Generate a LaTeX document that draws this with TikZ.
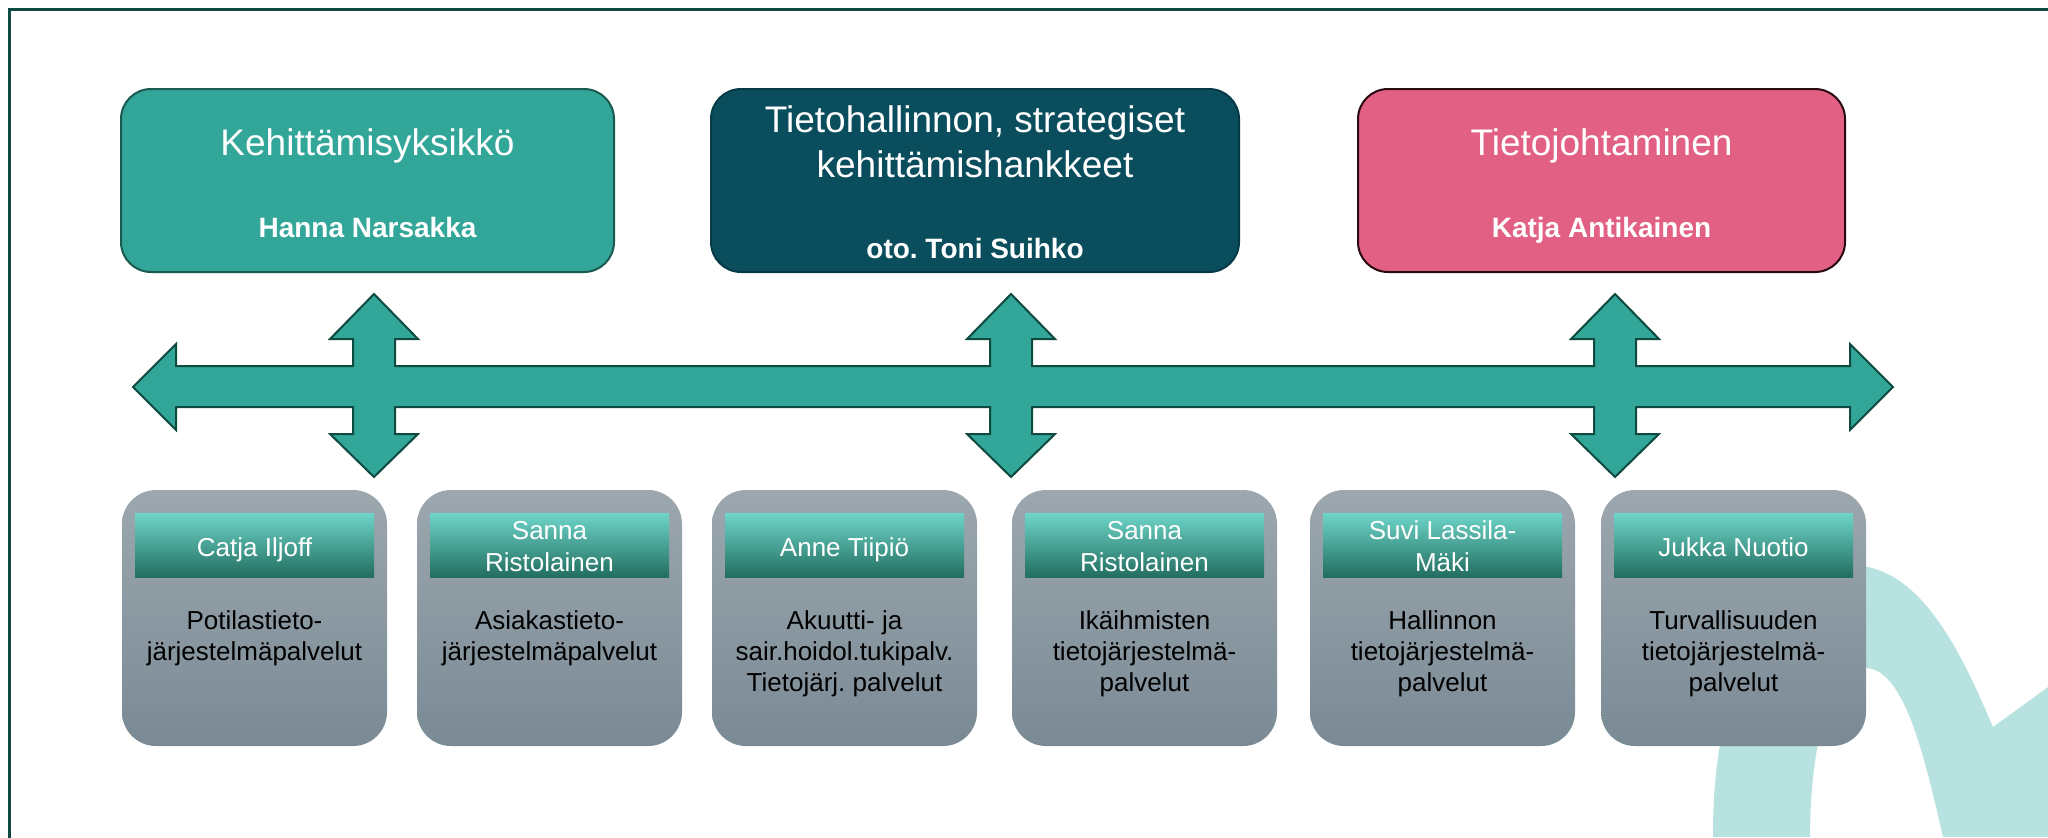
\documentclass[tikz,border=0pt]{standalone}
\usepackage{fontspec}
\setmainfont{Liberation Sans}
\frenchspacing
\definecolor{tealfill}{HTML}{32A698}
\definecolor{tealline}{HTML}{1A5A50}
\definecolor{navyfill}{HTML}{0A4E5E}
\definecolor{navyline}{HTML}{063A46}
\definecolor{pinkfill}{HTML}{E16083}
\definecolor{pinkline}{HTML}{2A0A12}
\definecolor{arrowline}{HTML}{0E4A40}
\definecolor{framecol}{HTML}{0E4A42}
\definecolor{graytop}{HTML}{9CA7AE}
\definecolor{graybot}{HTML}{7A8A95}
\definecolor{hdtop}{HTML}{6ED5C9}
\definecolor{hdmid}{HTML}{32A698}
\definecolor{hdbot}{HTML}{226E60}
\definecolor{swooshcol}{HTML}{B8E2DF}
\tikzset{
  topbox/.style={draw, line width=1pt, rounded corners=15pt, minimum height=91.5pt, inner sep=0pt},
  toptitle/.style={anchor=base, text=white, align=center, inner sep=0pt, font=\fontsize{18.5}{22.5}\selectfont},
  topname/.style={anchor=base, text=white, inner sep=0pt, font=\fontsize{14}{17}\selectfont\bfseries},
  unitbox/.style={shade, top color=graytop, bottom color=graybot, rounded corners=17pt, minimum width=132.5pt, minimum height=128pt, inner sep=0pt},
  headband/.style={shade, top color=hdtop, middle color=hdmid, bottom color=hdbot, minimum width=119.5pt, minimum height=32pt, inner sep=0pt},
  headtext/.style={anchor=base, text=white, align=center, inner sep=0pt, font=\fontsize{13}{16}\selectfont},
  bodytext/.style={anchor=base, text=black, align=center, inner sep=0pt, font=\fontsize{13}{15.5}\selectfont},
  bigarrow/.style={fill=tealfill, draw=arrowline, line width=1pt, line join=miter}
}
\begin{document}
\begin{tikzpicture}[x=0.5pt,y=-0.5pt]
\useasboundingbox (0,0) rectangle (2048,837);
% background swoosh
\fill[swooshcol] (1713,837) .. controls (1712,700) and (1760,565) .. (1850,565)
  .. controls (1920,565) and (1960,650) .. (1993,727) -- (2048,687) -- (2048,837) -- (1943,837)
  .. controls (1925,760) and (1905,668) .. (1865,668)
  .. controls (1825,668) and (1810,760) .. (1810,837) -- cycle;
% frame
\draw[framecol, line width=1.5pt] (9,840) -- (9,9.5) -- (2052,9.5);
% cross arrow
\draw[bigarrow] (133,387) -- (176,344) -- (176,366)
  -- (353,366) -- (353,339) -- (330,339) -- (374,294) -- (418,339) -- (395,339) -- (395,366)
  -- (990,366) -- (990,339) -- (967,339) -- (1011,294) -- (1055,339) -- (1032,339) -- (1032,366)
  -- (1594,366) -- (1594,339) -- (1571,339) -- (1615,294) -- (1659,339) -- (1636,339) -- (1636,366)
  -- (1850,366) -- (1850,344) -- (1893,387) -- (1850,430) -- (1850,407)
  -- (1636,407) -- (1636,434) -- (1659,434) -- (1615,477) -- (1571,434) -- (1594,434) -- (1594,407)
  -- (1032,407) -- (1032,434) -- (1055,434) -- (1011,477) -- (967,434) -- (990,434) -- (990,407)
  -- (395,407) -- (395,434) -- (418,434) -- (374,477) -- (330,434) -- (353,434) -- (353,407)
  -- (176,407) -- (176,430) -- cycle;
% top boxes
\node[topbox, fill=tealfill, draw=tealline, minimum width=246.5pt] (b1) at (367.5,180.5) {};
\node[topbox, fill=navyfill, draw=navyline, minimum width=264pt] (b2) at (975,180.5) {};
\node[topbox, fill=pinkfill, draw=pinkline, minimum width=243.5pt] (b3) at (1601.5,180.5) {};
\node[toptitle] (b1t) at (367.5,155) {Kehittämisyksikkö};
\node[topname] (b1n) at (367.5,237) {Hanna Narsakka};
\node[toptitle] (b2t) at (975,177) {Tietohallinnon, strategiset\\kehittämishankkeet};
\node[topname] (b2n) at (975,258) {oto. Toni Suihko};
\node[toptitle] (b3t) at (1601.5,155) {Tietojohtaminen};
\node[topname] (b3n) at (1601.5,237) {Katja Antikainen};
% bottom units (y of last baselines)
\foreach \i/\cx/\head/\hy/\body/\by in {
  1/254.5/{Catja Iljoff}/556/{Potilastieto-\\järjestelmäpalvelut}/660,
  2/549.5/{Sanna\\Ristolainen}/571/{Asiakastieto-\\järjestelmäpalvelut}/660,
  3/844.5/{Anne Tiipiö}/556/{Akuutti- ja\\sair.hoidol.tukipalv.\\Tietojärj. palvelut}/691,
  4/1144.5/{Sanna\\Ristolainen}/571/{Ikäihmisten\\tietojärjestelmä-\\palvelut}/691,
  5/1442.5/{Suvi Lassila-\\Mäki}/571/{Hallinnon\\tietojärjestelmä-\\palvelut}/691,
  6/1733.5/{Jukka Nuotio}/556/{Turvallisuuden\\tietojärjestelmä-\\palvelut}/691} {
  \node[unitbox] (u\i) at (\cx,618) {};
  \node[headband] (h\i) at (\cx,545) {};
  \node[headtext] (ht\i) at (\cx,\hy) {\head};
  \node[bodytext] (ut\i) at (\cx,\by) {\body};
}
\end{tikzpicture}
\end{document}
